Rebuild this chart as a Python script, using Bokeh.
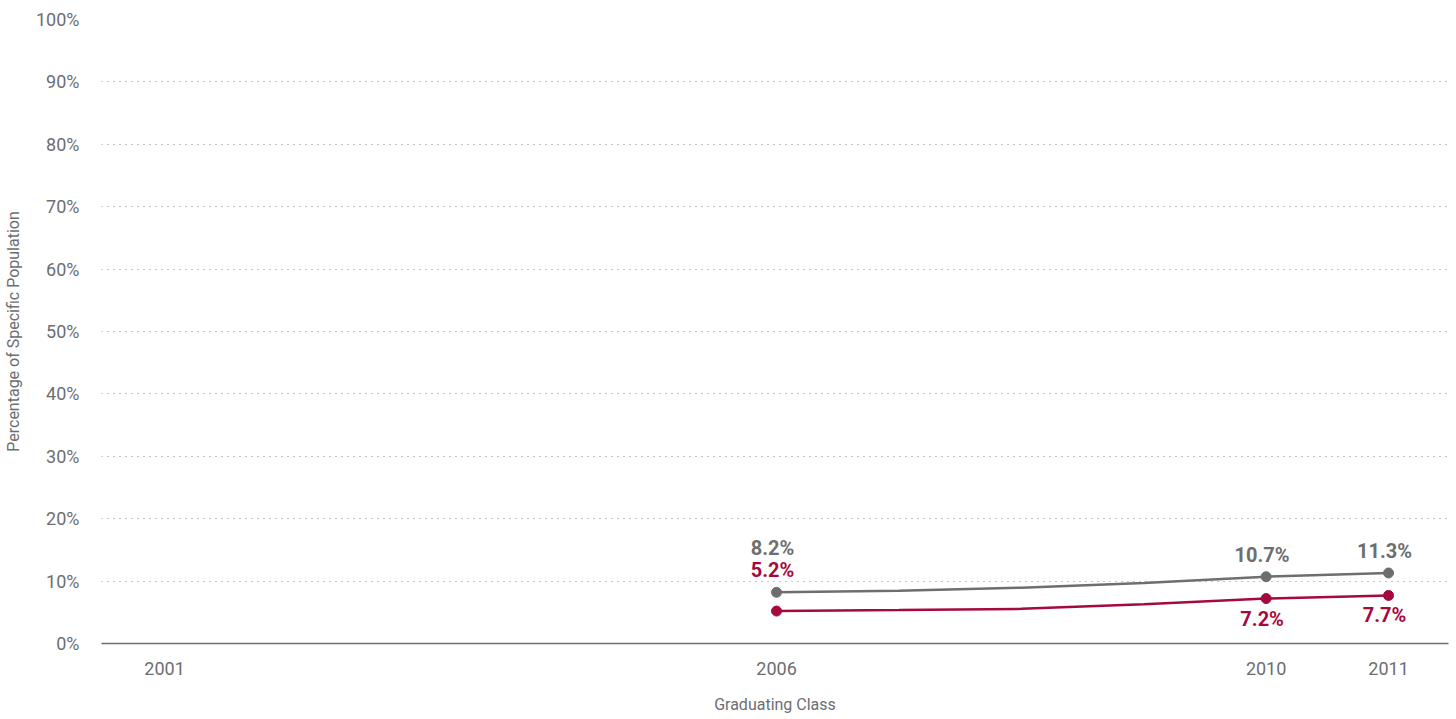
from bokeh.plotting import figure
from bokeh.models import Range1d, FixedTicker, CustomJSTickFormatter, ColumnDataSource
from bokeh.core.properties import value
from bokeh.embed import file_html
from bokeh.resources import INLINE

FONT = "Roboto"

years = [2006, 2007, 2008, 2009, 2010, 2011]
gray_vals = [8.2, 8.45, 8.95, 9.7, 10.7, 11.3]
red_vals = [5.2, 5.35, 5.55, 6.3, 7.2, 7.7]

marker_years = [2006, 2010, 2011]
gray_marker_vals = [8.2, 10.7, 11.3]
red_marker_vals = [5.2, 7.2, 7.7]

x_ticks = [2001, 2006, 2010, 2011]
y_ticks = [0, 10, 20, 30, 40, 50, 60, 70, 80, 90, 100]

GRAY = "#6d6e70"
RED = "#a6093d"
TXT = "#6d6e71"

p = figure(width=1456, height=719, output_backend="svg", toolbar_location=None,
           x_range=Range1d(2000.485, 2011.49), y_range=Range1d(0, 100),
           frame_width=1347, frame_height=624,
           min_border_left=100, min_border_right=9, min_border_top=19, min_border_bottom=76)
p.outline_line_color = None
p.background_fill_color = "white"

p.xaxis.ticker = FixedTicker(ticks=x_ticks)
p.yaxis.ticker = FixedTicker(ticks=y_ticks)
p.yaxis.formatter = CustomJSTickFormatter(code="return tick + '%';")
p.xaxis.formatter = CustomJSTickFormatter(code="return tick.toString();")

for ax in (p.xaxis, p.yaxis):
    ax.major_tick_line_color = None
    ax.minor_tick_line_color = None
    ax.major_label_text_font = FONT
    ax.major_label_text_color = TXT
    ax.major_label_text_font_size = "18px"
    ax.axis_label_text_font = FONT
    ax.axis_label_text_color = TXT
    ax.axis_label_text_font_style = "normal"

p.yaxis.axis_line_color = None
p.xaxis.axis_line_color = "#6d6e71"
p.xaxis.axis_line_width = 1.5
p.yaxis.major_label_standoff = 16
p.xaxis.major_label_standoff = 12
p.yaxis.axis_label = "Percentage of Specific Population"
p.xaxis.axis_label = "Graduating Class"
p.yaxis.axis_label_text_font_size = "16px"
p.xaxis.axis_label_text_font_size = "16px"
p.yaxis.axis_label_standoff = 10
p.xaxis.axis_label_standoff = 17

p.xgrid.grid_line_color = None
p.ygrid.grid_line_color = "#8a8b8d"
p.ygrid.grid_line_dash = "1 5"
p.ygrid.grid_line_width = 1

p.line(years, gray_vals, line_color=GRAY, line_width=2.5)
p.line(years, red_vals, line_color=RED, line_width=2.5)
p.scatter(marker_years, gray_marker_vals, size=10, fill_color=GRAY, line_color=GRAY)
p.scatter(marker_years, red_marker_vals, size=10, fill_color=RED, line_color=RED)

gray_labels = ["%.1f%%" % v for v in gray_marker_vals]
red_labels = ["%.1f%%" % v for v in red_marker_vals]
gsrc = ColumnDataSource(dict(x=marker_years, y=gray_marker_vals, t=gray_labels,
                             dy=[-44, -22, -22]))
rsrc = ColumnDataSource(dict(x=marker_years, y=red_marker_vals, t=red_labels,
                             dy=[-41, 20, 20]))
p.text(x="x", y="y", text="t", y_offset="dy", source=gsrc, text_color=GRAY,
       text_font=value(FONT), text_font_style="bold", text_font_size="20px",
       text_align="center", text_baseline="middle", x_offset=-4)
p.text(x="x", y="y", text="t", y_offset="dy", source=rsrc, text_color=RED,
       text_font=value(FONT), text_font_style="bold", text_font_size="20px",
       text_align="center", text_baseline="middle", x_offset=-4)

open("out.html", "w").write(file_html(p, INLINE))
